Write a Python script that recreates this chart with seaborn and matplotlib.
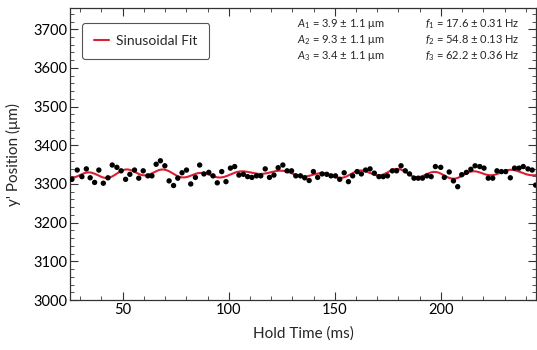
import numpy as np
import pandas as pd
import seaborn as sns
import matplotlib.pyplot as plt
from matplotlib.ticker import MultipleLocator

hold_time = [26.1, 28.6, 30.8, 32.9, 34.7, 36.8, 38.8, 40.9, 43.1, 45.1,
             47.3, 49.3, 51.4, 53.4, 55.6, 57.6, 59.7, 61.9, 63.8, 65.8,
             67.8, 69.9, 71.9, 74.0, 76.0, 78.0, 80.1, 82.1, 84.3, 86.3,
             88.3, 90.6, 92.6, 94.6, 96.7, 98.7, 100.8, 102.8, 104.8, 106.9,
             108.9, 110.9, 113.1, 115.1, 117.2, 119.2, 121.3, 123.3, 125.5, 127.5,
             129.6, 131.6, 133.8, 135.8, 137.9, 139.9, 141.9, 144.0, 146.2, 148.2,
             150.3, 152.3, 154.4, 156.4, 158.4, 160.5, 162.5, 164.5, 166.6, 168.6,
             170.8, 172.8, 174.8, 177.1, 179.1, 181.2, 183.2, 185.2, 187.3, 189.3,
             191.3, 193.4, 195.4, 197.4, 199.9, 201.6, 203.9, 205.9, 207.9, 209.8,
             212.0, 214.1, 216.1, 218.3, 220.3, 222.3, 224.4, 226.4, 228.5, 230.5,
             232.7, 234.7, 236.8, 238.8, 241.0, 243.0, 244.6]
position = [3312, 3336, 3319, 3339, 3316, 3304, 3336, 3302, 3316, 3349,
            3343, 3334, 3312, 3325, 3336, 3315, 3334, 3321, 3321, 3351,
            3360, 3347, 3308, 3296, 3315, 3329, 3336, 3300, 3317, 3349,
            3326, 3330, 3321, 3303, 3332, 3306, 3341, 3345, 3323, 3325,
            3319, 3317, 3321, 3321, 3339, 3317, 3323, 3342, 3349, 3334,
            3334, 3321, 3321, 3316, 3309, 3332, 3317, 3326, 3325, 3321,
            3321, 3312, 3329, 3306, 3321, 3332, 3326, 3336, 3339, 3328,
            3319, 3319, 3321, 3334, 3334, 3347, 3334, 3326, 3315, 3315,
            3315, 3321, 3319, 3345, 3343, 3317, 3331, 3308, 3293, 3324,
            3330, 3338, 3347, 3345, 3341, 3315, 3315, 3334, 3332, 3332,
            3316, 3341, 3341, 3345, 3339, 3336, 3297]

# fit frequencies (Hz) and labels shown on the plot
freqs = [17.6, 54.8, 62.2]
amp_labels = [r"$A_1$ = 3.9 ± 1.1 μm", r"$A_2$ = 9.3 ± 1.1 μm", r"$A_3$ = 3.4 ± 1.1 μm"]
freq_labels = [r"$f_1$ = 17.6 ± 0.31 Hz", r"$f_2$ = 54.8 ± 0.13 Hz", r"$f_3$ = 62.2 ± 0.36 Hz"]

x_lim = (25.2, 244.8)
y_lim = (3000, 3755)

sns.set_theme(style='ticks')
plt.rcParams['font.family'] = ['Lato', 'DejaVu Sans']
plt.rcParams['mathtext.fontset'] = 'custom'
plt.rcParams['mathtext.rm'] = 'Lato'
plt.rcParams['mathtext.it'] = 'Lato:italic'

df = pd.DataFrame({'t': hold_time, 'y': position})

# Least squares sinusoidal fit with the listed frequencies
def design(t_ms):
    t = np.asarray(t_ms) / 1000.0
    cols = [np.ones_like(t)]
    for f in freqs:
        cols.append(np.sin(2 * np.pi * f * t))
        cols.append(np.cos(2 * np.pi * f * t))
    return np.column_stack(cols)

coef, *_ = np.linalg.lstsq(design(df['t']), df['y'], rcond=None)
t_fit = np.linspace(x_lim[0], x_lim[1], 1000)
fit = pd.DataFrame({'t': t_fit, 'y': design(t_fit) @ coef})

fig = plt.figure(figsize=(5.37, 3.5), dpi=100)
ax = fig.add_axes([70 / 537, 50 / 350, 466 / 537, 292 / 350])

sns.lineplot(data=fit, x='t', y='y', ax=ax, color='#DC1F35', lw=1.5, label='Sinusoidal Fit')
sns.scatterplot(data=df, x='t', y='y', ax=ax, color='black', s=15, edgecolor='none', legend=False, zorder=3)

ax.set_xlim(*x_lim)
ax.set_ylim(*y_lim)
ax.xaxis.set_major_locator(MultipleLocator(50))
ax.xaxis.set_minor_locator(MultipleLocator(10))
ax.yaxis.set_major_locator(MultipleLocator(100))
ax.yaxis.set_minor_locator(MultipleLocator(20))
ax.tick_params(which='both', direction='in', top=True, right=True, colors='#333333',
               labelcolor='black', labelsize=10.5, pad=2)
ax.tick_params(which='major', length=5.5, width=0.8)
ax.tick_params(which='minor', length=2.8, width=0.6)
for s in ax.spines.values():
    s.set_color('#333333')
    s.set_linewidth(0.9)

ax.set_xlabel('Hold Time (ms)', fontsize=11, labelpad=7)
ax.set_ylabel("y' Position (μm)", fontsize=11, labelpad=9)

leg = ax.legend(loc='upper left', bbox_to_anchor=(0.026, 0.949), borderaxespad=0, fontsize=10,
                frameon=True, fancybox=True, handlelength=1.1, handletextpad=0.5,
                borderpad=0.85, framealpha=1)
leg.get_frame().set_edgecolor('#555555')
leg.get_frame().set_linewidth(0.8)

for i, (a, f) in enumerate(zip(amp_labels, freq_labels)):
    yy = 1 - (24 + 16 * i) / 350
    fig.text(297 / 537, yy, a, fontsize=8, va='center', ha='left')
    fig.text(425 / 537, yy, f, fontsize=8, va='center', ha='left')

fig.savefig('out.png', dpi=100)
